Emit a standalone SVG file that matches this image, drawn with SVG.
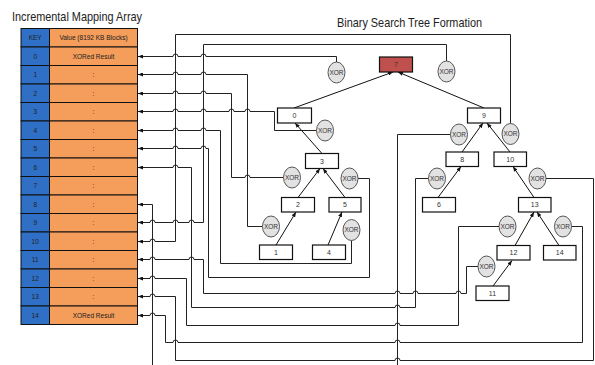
<svg xmlns="http://www.w3.org/2000/svg" width="595" height="365" viewBox="0 0 595 365">
<defs>
<marker id="arr" viewBox="0 0 10 8" refX="10" refY="4" markerWidth="5" markerHeight="4" markerUnits="userSpaceOnUse" orient="auto-start-reverse">
<path d="M0,0 L10,4 L0,8 z" fill="#111"/>
</marker>
<style>
.title{font-family:"Liberation Sans",Arial,sans-serif;font-size:13px;fill:#222}
.cell{stroke:#111;stroke-width:1}
.key{fill:#2f6fc6}
.val{fill:#f59d5a}
.tt{font-family:"Liberation Sans",Arial,sans-serif;font-size:6.5px;fill:#222;text-anchor:middle}
.box{fill:#fff;stroke:#111;stroke-width:1.2}
.red{fill:#c0504d}
.nt{font-family:"Liberation Sans",Arial,sans-serif;font-size:7px;fill:#333;text-anchor:middle}
.xor ellipse{fill:#e2e2e2;stroke:#444;stroke-width:0.9}
.xor text{font-family:"Liberation Sans",Arial,sans-serif;font-size:6.5px;fill:#333;text-anchor:middle}
.wire{fill:none;stroke:#222;stroke-width:1}
.tarr{fill:none;stroke:#111;stroke-width:1;marker-end:url(#arr)}
.in{marker-start:url(#arr)}
</style>
</defs>
<rect width="595" height="365" fill="#fff"/>
<text class="title" x="12" y="20.5" textLength="130" lengthAdjust="spacingAndGlyphs">Incremental Mapping Array</text>
<text class="title" x="337" y="26.5" textLength="145" lengthAdjust="spacingAndGlyphs">Binary Search Tree Formation</text>

<g id="table">
<rect class="cell key" x="21" y="28.5" width="28.5" height="18.5"/><rect class="cell val" x="49.5" y="28.5" width="88" height="18.5"/>
<text class="tt" x="35.2" y="40">KEY</text><text class="tt" x="93.5" y="40">Value (8192 KB Blocks)</text>
<g id="row0"><rect class="cell key" x="21" y="47" width="28.5" height="18.5"/><rect class="cell val" x="49.5" y="47" width="88" height="18.5"/><text class="tt" x="35.2" y="58.5">0</text><text class="tt" x="93.5" y="58.5">XORed Result</text></g>
<g id="row1"><rect class="cell key" x="21" y="65.5" width="28.5" height="18.5"/><rect class="cell val" x="49.5" y="65.5" width="88" height="18.5"/><text class="tt" x="35.2" y="77">1</text><text class="tt" x="93.5" y="77">:</text></g>
<g id="row2"><rect class="cell key" x="21" y="84" width="28.5" height="18.5"/><rect class="cell val" x="49.5" y="84" width="88" height="18.5"/><text class="tt" x="35.2" y="95.5">2</text><text class="tt" x="93.5" y="95.5">:</text></g>
<g id="row3"><rect class="cell key" x="21" y="102.5" width="28.5" height="18.5"/><rect class="cell val" x="49.5" y="102.5" width="88" height="18.5"/><text class="tt" x="35.2" y="114">3</text><text class="tt" x="93.5" y="114">:</text></g>
<g id="row4"><rect class="cell key" x="21" y="121" width="28.5" height="18.5"/><rect class="cell val" x="49.5" y="121" width="88" height="18.5"/><text class="tt" x="35.2" y="132.5">4</text><text class="tt" x="93.5" y="132.5">:</text></g>
<g id="row5"><rect class="cell key" x="21" y="139.5" width="28.5" height="18.5"/><rect class="cell val" x="49.5" y="139.5" width="88" height="18.5"/><text class="tt" x="35.2" y="151">5</text><text class="tt" x="93.5" y="151">:</text></g>
<g id="row6"><rect class="cell key" x="21" y="158" width="28.5" height="18.5"/><rect class="cell val" x="49.5" y="158" width="88" height="18.5"/><text class="tt" x="35.2" y="169.5">6</text><text class="tt" x="93.5" y="169.5">:</text></g>
<g id="row7"><rect class="cell key" x="21" y="176.5" width="28.5" height="18.5"/><rect class="cell val" x="49.5" y="176.5" width="88" height="18.5"/><text class="tt" x="35.2" y="188">7</text><text class="tt" x="93.5" y="188">:</text></g>
<g id="row8"><rect class="cell key" x="21" y="195" width="28.5" height="18.5"/><rect class="cell val" x="49.5" y="195" width="88" height="18.5"/><text class="tt" x="35.2" y="206.5">8</text><text class="tt" x="93.5" y="206.5">:</text></g>
<g id="row9"><rect class="cell key" x="21" y="213.5" width="28.5" height="18.5"/><rect class="cell val" x="49.5" y="213.5" width="88" height="18.5"/><text class="tt" x="35.2" y="225">9</text><text class="tt" x="93.5" y="225">:</text></g>
<g id="row10"><rect class="cell key" x="21" y="232" width="28.5" height="18.5"/><rect class="cell val" x="49.5" y="232" width="88" height="18.5"/><text class="tt" x="35.2" y="243.5">10</text><text class="tt" x="93.5" y="243.5">:</text></g>
<g id="row11"><rect class="cell key" x="21" y="250.5" width="28.5" height="18.5"/><rect class="cell val" x="49.5" y="250.5" width="88" height="18.5"/><text class="tt" x="35.2" y="262">11</text><text class="tt" x="93.5" y="262">:</text></g>
<g id="row12"><rect class="cell key" x="21" y="269" width="28.5" height="18.5"/><rect class="cell val" x="49.5" y="269" width="88" height="18.5"/><text class="tt" x="35.2" y="280.5">12</text><text class="tt" x="93.5" y="280.5">:</text></g>
<g id="row13"><rect class="cell key" x="21" y="287.5" width="28.5" height="18.5"/><rect class="cell val" x="49.5" y="287.5" width="88" height="18.5"/><text class="tt" x="35.2" y="299">13</text><text class="tt" x="93.5" y="299">:</text></g>
<g id="row14"><rect class="cell key" x="21" y="306" width="28.5" height="18.5"/><rect class="cell val" x="49.5" y="306" width="88" height="18.5"/><text class="tt" x="35.2" y="317.5">14</text><text class="tt" x="93.5" y="317.5">XORed Result</text></g>
</g>

<g id="connectors">
<path class="wire in" d="M138,56.5H173a2.5 2.5 0 0 1 5 0H201a2.5 2.5 0 0 1 5 0H336.5V62"/>
<path class="wire in" d="M138,74.5H173a2.5 2.5 0 0 1 5 0H201a2.5 2.5 0 0 1 5 0H247.5V226.5H262.5"/>
<path class="wire in" d="M138,93.5H173a2.5 2.5 0 0 1 5 0H201a2.5 2.5 0 0 1 5 0H231.5V177.5H245a2.5 2.5 0 0 1 5 0H283.5"/>
<path class="wire in" d="M138,111.5H173a2.5 2.5 0 0 1 5 0H201a2.5 2.5 0 0 1 5 0H229a2.5 2.5 0 0 1 5 0H245a2.5 2.5 0 0 1 5 0H274.5V130.5H316.5"/>
<path class="wire in" d="M138,130.5H173a2.5 2.5 0 0 1 5 0H201a2.5 2.5 0 0 1 5 0H220.5V263.5H351.5V240.5"/>
<path class="wire in" d="M138,148.5H173a2.5 2.5 0 0 1 5 0H201a2.5 2.5 0 0 1 5 0H208.5V277.5H369.5V178.5H358"/>
<path class="wire in" d="M138,167.5H173a2.5 2.5 0 0 1 5 0H191.5V307.5H395a2.5 2.5 0 0 1 5 0H415.5V178.5H428.5"/>
<path class="wire in" d="M138,204.5H152.5V365"/>
<path class="wire in" d="M138,222.5H150a2.5 2.5 0 0 1 5 0H173a2.5 2.5 0 0 1 5 0H189a2.5 2.5 0 0 1 5 0H203.5V44.5H446.5V61"/>
<path class="wire in" d="M138,241.5H150a2.5 2.5 0 0 1 5 0H175.5V34.5H510.5V123.5"/>
<path class="wire in" d="M138,259.5H150a2.5 2.5 0 0 1 5 0H189a2.5 2.5 0 0 1 5 0H203.5V293.5H395a2.5 2.5 0 0 1 5 0H413a2.5 2.5 0 0 1 5 0H456a2.5 2.5 0 0 1 5 0H466.5V266.5H478"/>
<path class="wire in" d="M138,278.5H150a2.5 2.5 0 0 1 5 0H186.5V325.5H395a2.5 2.5 0 0 1 5 0H458.5V226.5H499"/>
<path class="wire in" d="M138,296.5H150a2.5 2.5 0 0 1 5 0H175.5V360.5H395a2.5 2.5 0 0 1 5 0H593.5V178.5H546"/>
<path class="wire in" d="M138,315.5H150a2.5 2.5 0 0 1 5 0H165.5V342.5H173a2.5 2.5 0 0 1 5 0H395a2.5 2.5 0 0 1 5 0H582.5V226.5H571.5"/>
<path class="wire" d="M450.5,134.5H397.5V365"/>
<path class="tarr" d="M294,108 L393,72"/>
<path class="tarr" d="M484,108 L398,72"/>
<path class="tarr" d="M322,153.5 L295,123"/>
<path class="tarr" d="M298,197.5 L320,168.5"/>
<path class="tarr" d="M345,197.5 L323,168.5"/>
<path class="tarr" d="M276,245 L296,212"/>
<path class="tarr" d="M328,245 L342,212"/>
<path class="tarr" d="M462,152 L483,123"/>
<path class="tarr" d="M510,152 L487,123"/>
<path class="tarr" d="M438,197.5 L461,166.5"/>
<path class="tarr" d="M534,197.5 L513,166.5"/>
<path class="tarr" d="M515,245.5 L534,212"/>
<path class="tarr" d="M559,245.5 L537,212"/>
<path class="tarr" d="M493,286 L512,260.5"/>
</g>

<g id="node-7"><rect class="box red" x="379.5" y="57" width="33" height="15"/><text class="nt" x="396" y="67">7</text></g>
<g id="node-9"><rect class="box" x="467.5" y="108" width="33" height="15"/><text class="nt" x="484" y="118">9</text></g>
<g id="node-0"><rect class="box" x="277.5" y="108" width="34" height="15"/><text class="nt" x="294.5" y="118">0</text></g>
<g id="node-3"><rect class="box" x="305.5" y="153.5" width="33" height="15"/><text class="nt" x="322" y="163.5">3</text></g>
<g id="node-2"><rect class="box" x="281.5" y="197.5" width="33" height="14.5"/><text class="nt" x="298" y="207.2">2</text></g>
<g id="node-5"><rect class="box" x="329" y="197.5" width="32" height="14.5"/><text class="nt" x="345" y="207.2">5</text></g>
<g id="node-1"><rect class="box" x="259.5" y="245" width="33" height="14.5"/><text class="nt" x="276" y="254.7">1</text></g>
<g id="node-4"><rect class="box" x="312.5" y="245" width="33" height="14.5"/><text class="nt" x="329" y="254.7">4</text></g>
<g id="node-8"><rect class="box" x="446" y="152" width="32.5" height="14.5"/><text class="nt" x="462.2" y="161.7">8</text></g>
<g id="node-10"><rect class="box" x="494" y="152" width="32.5" height="14.5"/><text class="nt" x="510.2" y="161.7">10</text></g>
<g id="node-6"><rect class="box" x="422.5" y="197.5" width="33" height="14.5"/><text class="nt" x="439" y="207.2">6</text></g>
<g id="node-13"><rect class="box" x="518.5" y="197.5" width="32.5" height="14.5"/><text class="nt" x="534.7" y="207.2">13</text></g>
<g id="node-12"><rect class="box" x="497" y="245.5" width="33" height="14.5"/><text class="nt" x="513.5" y="255.2">12</text></g>
<g id="node-14"><rect class="box" x="543.5" y="245.5" width="32.5" height="14.5"/><text class="nt" x="559.7" y="255.2">14</text></g>
<g id="node-11"><rect class="box" x="476" y="286" width="33" height="14.5"/><text class="nt" x="492.5" y="295.7">11</text></g>

<g id="xor-l7" class="xor"><ellipse cx="336.5" cy="72.5" rx="8.5" ry="10.5"/><text x="336.5" y="74.8">XOR</text></g>
<g id="xor-r7" class="xor"><ellipse cx="446.5" cy="71.5" rx="8.5" ry="10.5"/><text x="446.5" y="73.8">XOR</text></g>
<g id="xor-r0" class="xor"><ellipse cx="325" cy="130.5" rx="8.5" ry="10.5"/><text x="325" y="132.8">XOR</text></g>
<g id="xor-l9" class="xor"><ellipse cx="459" cy="134.5" rx="8.5" ry="10.5"/><text x="459" y="136.8">XOR</text></g>
<g id="xor-r9" class="xor"><ellipse cx="510.5" cy="134" rx="8.5" ry="10.5"/><text x="510.5" y="136.3">XOR</text></g>
<g id="xor-l3" class="xor"><ellipse cx="292" cy="177.5" rx="8.5" ry="10.5"/><text x="292" y="179.8">XOR</text></g>
<g id="xor-r3" class="xor"><ellipse cx="349.5" cy="178.5" rx="8.5" ry="10.5"/><text x="349.5" y="180.8">XOR</text></g>
<g id="xor-l2" class="xor"><ellipse cx="271" cy="226.5" rx="8.5" ry="10.5"/><text x="271" y="228.8">XOR</text></g>
<g id="xor-r5" class="xor"><ellipse cx="351.5" cy="230" rx="8.5" ry="10.5"/><text x="351.5" y="232.3">XOR</text></g>
<g id="xor-l8" class="xor"><ellipse cx="437" cy="178.5" rx="8.5" ry="10.5"/><text x="437" y="180.8">XOR</text></g>
<g id="xor-r10" class="xor"><ellipse cx="537.5" cy="178.5" rx="8.5" ry="10.5"/><text x="537.5" y="180.8">XOR</text></g>
<g id="xor-l13" class="xor"><ellipse cx="507.5" cy="226.5" rx="8.5" ry="10.5"/><text x="507.5" y="228.8">XOR</text></g>
<g id="xor-r13" class="xor"><ellipse cx="563" cy="226.5" rx="8.5" ry="10.5"/><text x="563" y="228.8">XOR</text></g>
<g id="xor-l12" class="xor"><ellipse cx="486.5" cy="266.5" rx="8.5" ry="10.5"/><text x="486.5" y="268.8">XOR</text></g>
</svg>
